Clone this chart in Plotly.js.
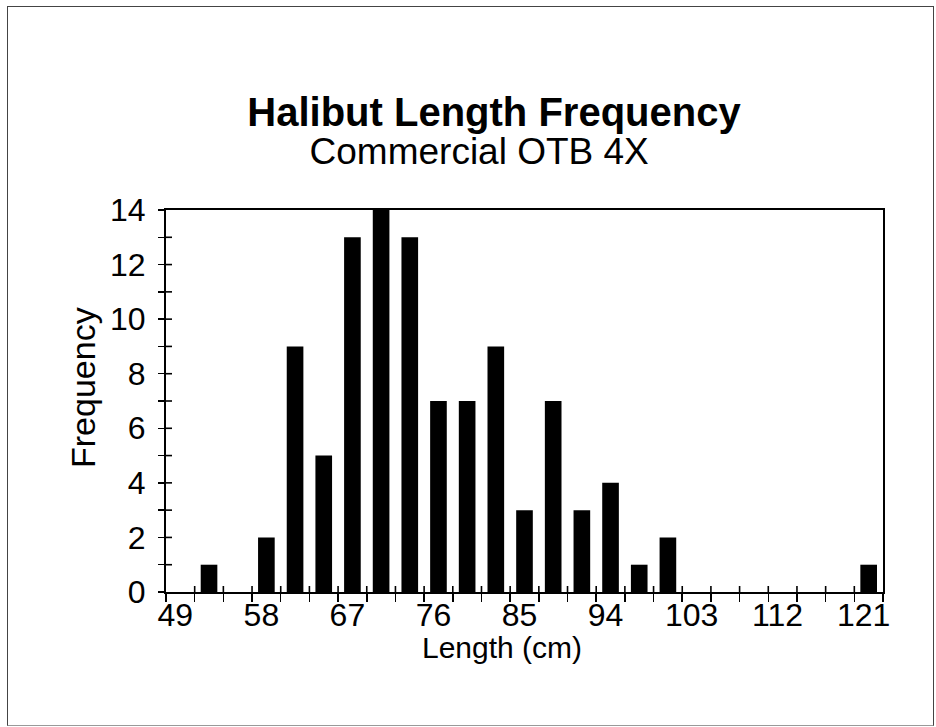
<!DOCTYPE html>
<html>
<head>
<meta charset="utf-8">
<script src="https://cdn.plot.ly/plotly-3.0.1.min.js"></script>
<style>
  html, body { margin: 0; padding: 0; background: #fff; }
  #wrap { position: relative; width: 936px; height: 727px; }
  #chart { position: absolute; left: 0; top: 0; width: 936px; height: 727px; }
  #frame { position: absolute; left: 7px; top: 6px; width: 925px; height: 718px;
           border: 1.5px solid #444; border-bottom-color: #999; pointer-events: none; }
</style>
</head>
<body>
<div id="wrap">
  <div id="chart"></div>
  <div id="frame"></div>
</div>
<script>
// Length classes (cm), 3 cm bins
const lengths = [49, 52, 55, 58, 61, 64, 67, 70, 73, 76, 79, 82, 85, 88, 91, 94, 97, 100, 103, 106, 109, 112, 115, 118, 121];
// Frequency per length class
const frequency = [0, 1, 0, 2, 9, 5, 13, 14, 13, 7, 7, 9, 3, 7, 3, 4, 1, 2, 0, 0, 0, 0, 0, 0, 1];
// Labelled length classes on x axis
const xTickLabels = [49, 58, 67, 76, 85, 94, 103, 112, 121];
// Y axis labels
const yTickLabels = [0, 2, 4, 6, 8, 10, 12, 14];

const binWidth = lengths[1] - lengths[0];
const xMin = lengths[0] - binWidth / 2;
const xMax = lengths[lengths.length - 1] + binWidth / 2;
const boundaries = [];
for (let i = 0; i <= lengths.length; i++) boundaries.push(xMin + i * binWidth);
const yMax = yTickLabels[yTickLabels.length - 1];
const yUnits = [];
for (let v = 0; v <= yMax; v++) yUnits.push(v);

const FONT = 'Liberation Sans, Arial, Helvetica, sans-serif';
const M = { l: 166, r: 53, t: 210, b: 135 };
const plotW = 936 - M.l - M.r, plotH = 727 - M.t - M.b;
const innerTick = 6; // px, inner half of crossing ticks

// inner halves of the crossing tick marks (outer halves are the axis ticks)
const tickShapes = [];
boundaries.slice(1, -1).forEach(b => tickShapes.push({
  type: 'line', xref: 'x', yref: 'y', layer: 'above',
  x0: b, x1: b, y0: 0, y1: yMax * innerTick / plotH,
  line: { color: '#000', width: 1.6 }
}));
yUnits.slice(1, -1).forEach(v => tickShapes.push({
  type: 'line', xref: 'x', yref: 'y', layer: 'above',
  x0: xMin, x1: xMin + (xMax - xMin) * innerTick / plotW, y0: v, y1: v,
  line: { color: '#000', width: 1.6 }
}));

const traces = [
  {
    type: 'bar',
    x: lengths,
    y: frequency,
    marker: { color: '#000000', line: { width: 0 } },
    hoverinfo: 'x+y',
    showlegend: false
  }
];

const layout = {
  width: 936,
  height: 727,
  paper_bgcolor: 'rgba(0,0,0,0)',
  plot_bgcolor: '#ffffff',
  margin: M,
  font: { family: FONT, color: '#000' },
  bargap: 0.42,
  shapes: tickShapes,
  title: {
    text: '<span style="font-size:40px"><b>Halibut Length Frequency</b></span><br>' +
          '<span style="font-size:37px">Commercial OTB 4X\u2009\u2009\u2009\u2009</span>',
    font: { family: FONT, size: 29, color: '#000' },
    x: 494 / 936, xanchor: 'center', xref: 'container',
    y: 1 - 126 / 727, yanchor: 'top', yref: 'container'
  },
  annotations: [
    {
      text: 'Length (cm)',
      xref: 'paper', yref: 'paper',
      x: (502 - 166) / plotW, y: (592 - 647) / plotH,
      xanchor: 'center', yanchor: 'middle', showarrow: false,
      font: { family: FONT, size: 30, color: '#000' }
    },
    {
      text: 'Frequency',
      xref: 'paper', yref: 'paper', textangle: -90,
      x: (83 - 166) / plotW, y: (592 - 388) / plotH,
      xanchor: 'center', yanchor: 'middle', showarrow: false,
      font: { family: FONT, size: 34, color: '#000' }
    }
  ],
  xaxis: {
    type: 'linear',
    range: [xMin, xMax],
    tickmode: 'array',
    tickvals: xTickLabels,
    ticktext: xTickLabels.map(String),
    ticks: '',
    ticklabelshift: -5,
    ticklabelstandoff: -6,
    tickfont: { family: FONT, size: 32, color: '#000' },
    showgrid: false, zeroline: false,
    showline: true, linecolor: '#000', linewidth: 2, mirror: true,
    minor: { tickmode: 'array', tickvals: boundaries, ticks: 'outside', ticklen: 8, tickwidth: 1.5, tickcolor: '#000', showgrid: false },
    fixedrange: true
  },
  yaxis: {
    range: [0, yMax],
    tickmode: 'array',
    tickvals: yTickLabels,
    ticks: 'outside', ticklen: 6, tickwidth: 1.5, tickcolor: '#000',
    ticklabelstandoff: 6,
    tickfont: { family: FONT, size: 32, color: '#000' },
    showgrid: false, zeroline: false,
    showline: true, linecolor: '#000', linewidth: 2, mirror: true,
    minor: { dtick: 1, tick0: 0, ticks: 'outside', ticklen: 6, tickwidth: 1.5, tickcolor: '#000', showgrid: false },
    fixedrange: true
  }
};

Plotly.newPlot('chart', traces, layout, { displayModeBar: false, staticPlot: true });
</script>
</body>
</html>
